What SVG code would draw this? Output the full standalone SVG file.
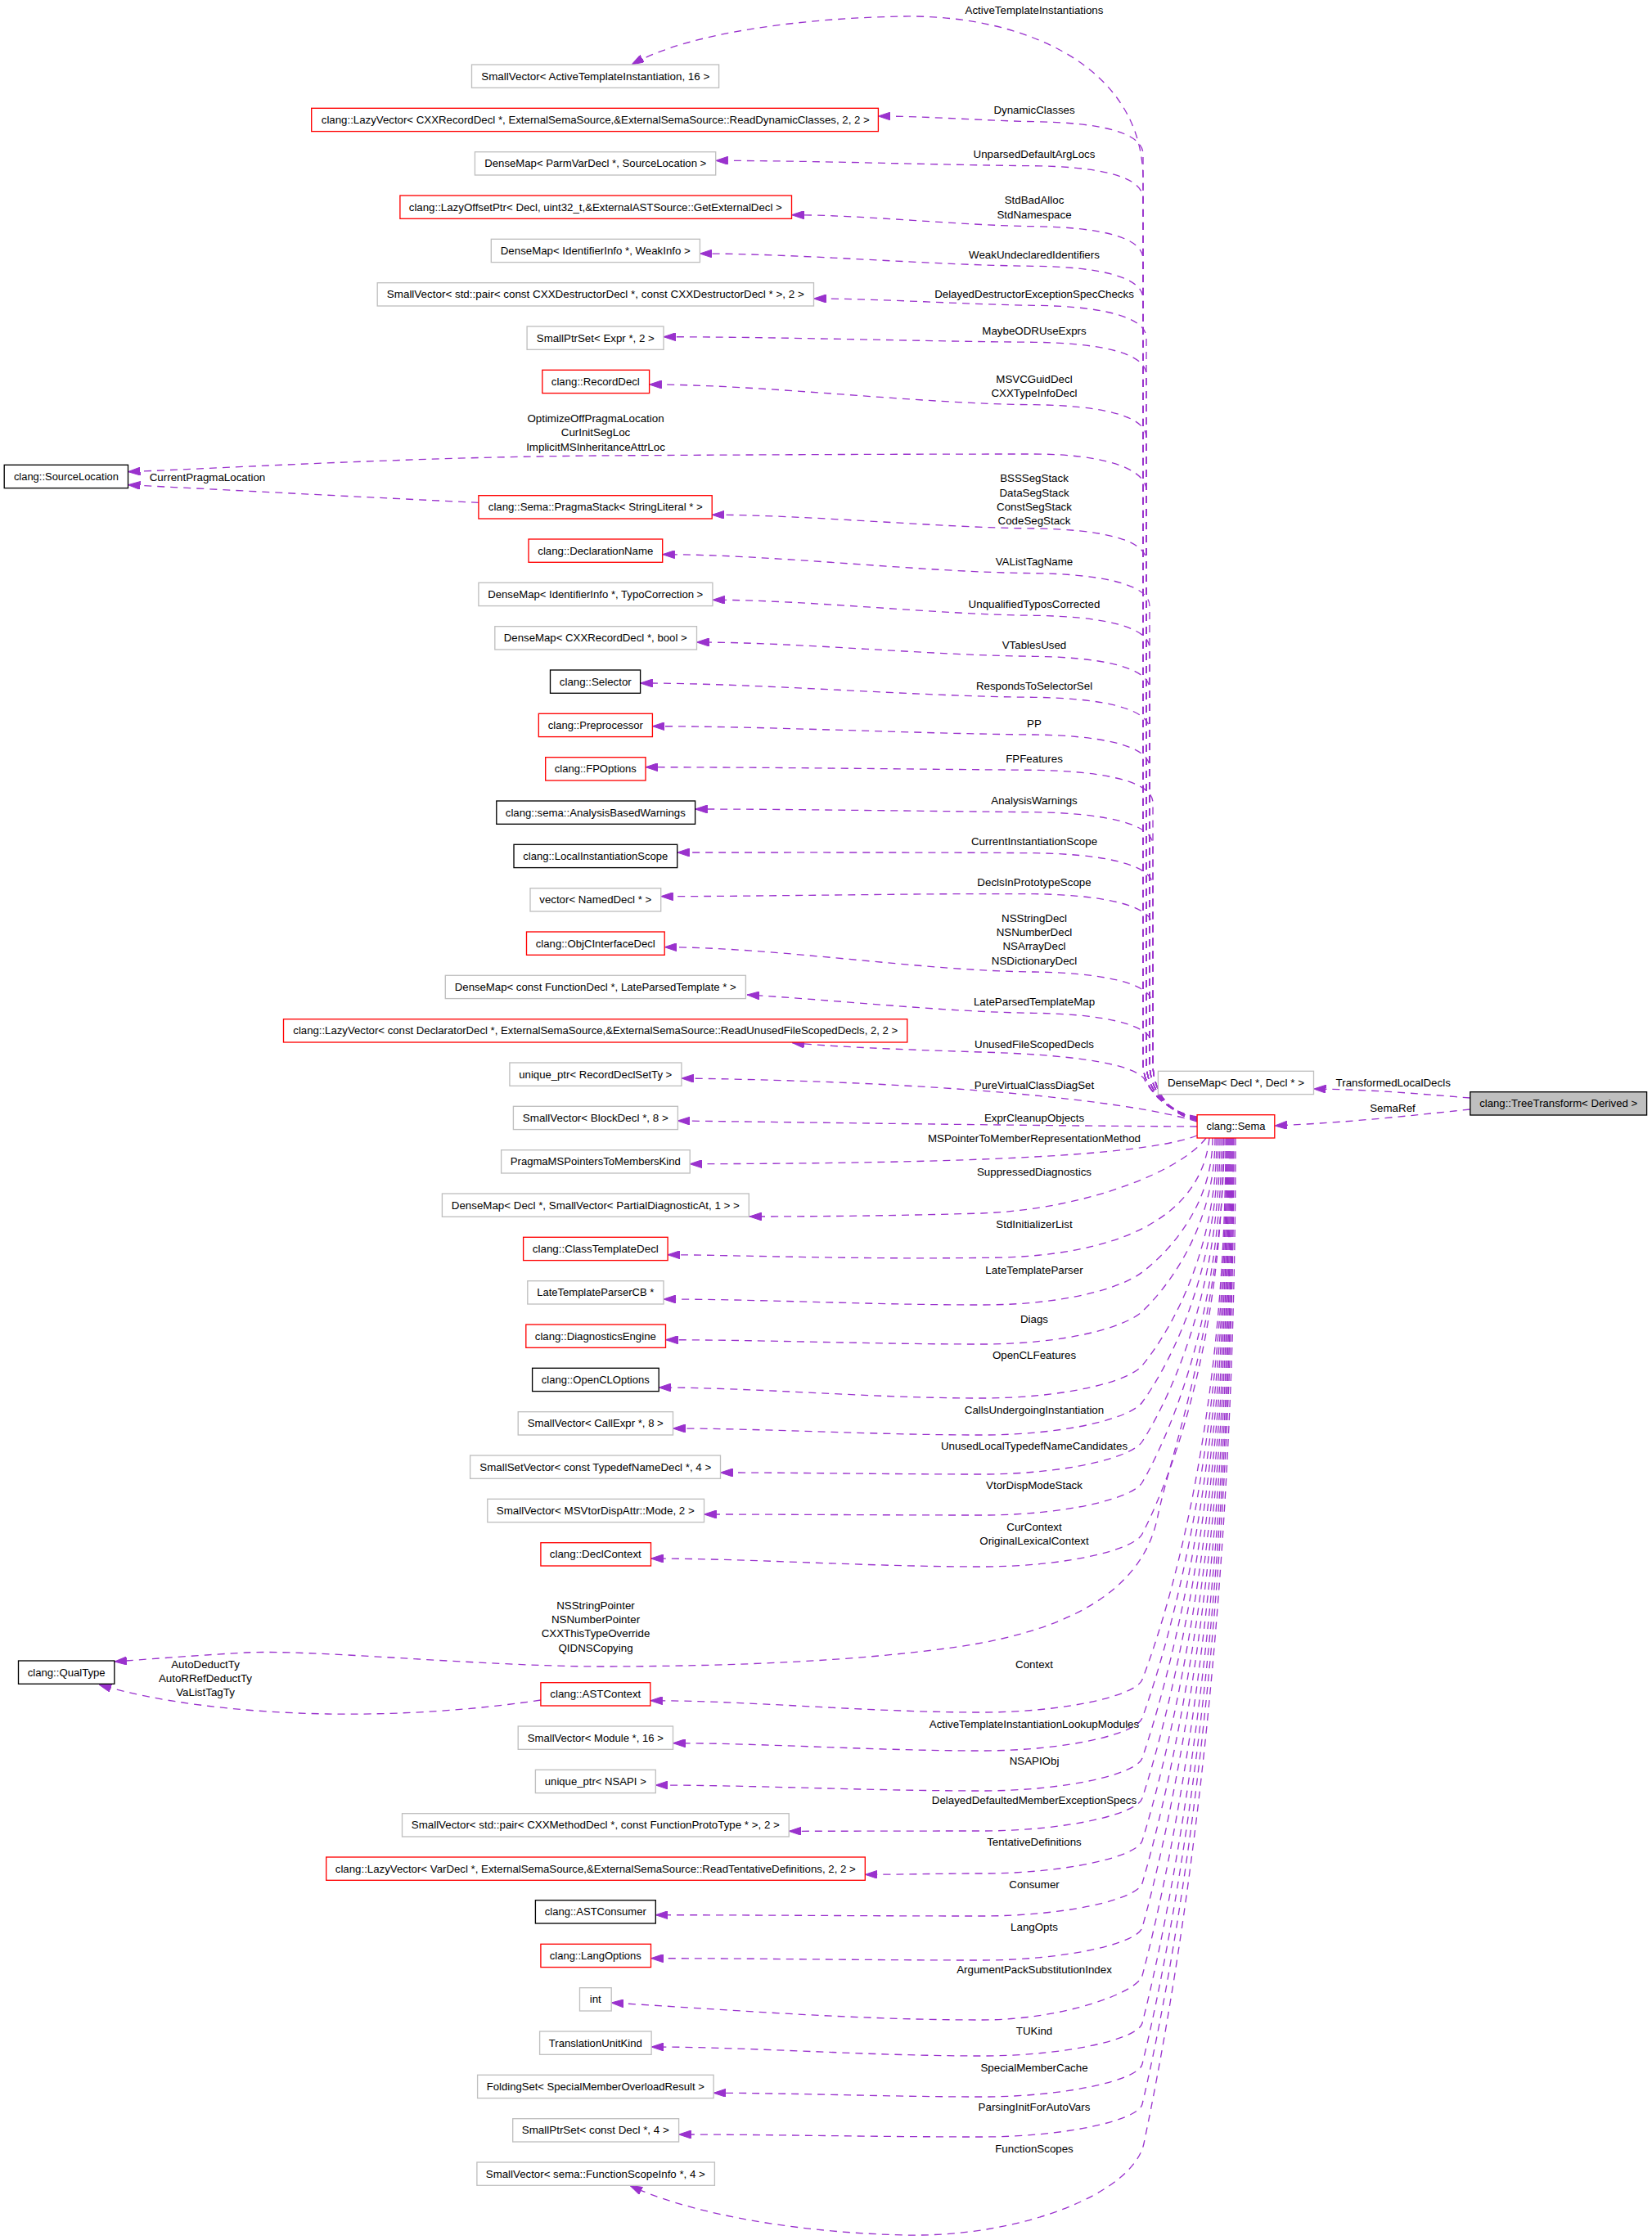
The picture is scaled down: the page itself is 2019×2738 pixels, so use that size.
<svg xmlns="http://www.w3.org/2000/svg" width="2019" height="2738" viewBox="0 0 2019 2738">
<style>
text{font-family:"Liberation Sans",Arial,Helvetica,sans-serif;font-size:13.33px;fill:#000}
.node rect{fill:#fff;stroke-width:1.33}
.node text{text-anchor:middle}
.g rect{stroke:#bfbfbf}
.r rect{stroke:#ff0000}
.k rect{stroke:#000}
.edge path{fill:none;stroke:#9a32cd;stroke-width:1.33;stroke-dasharray:9,7;marker-end:url(#arr)}
.edge text{text-anchor:middle}
</style>
<defs>
<marker id="arr" viewBox="0 0 15 10" refX="15" refY="5" markerWidth="15" markerHeight="10" markerUnits="userSpaceOnUse" orient="auto"><path d="M0,0L15,5L0,10z" fill="#9a32cd" stroke="#9a32cd" stroke-width="1"/></marker>
</defs>
<rect width="2019" height="2738" fill="#fff"/>
<g id="edges">
<g class="edge"><path d="M1463,1365 C1430,1360 1397,1335 1397,1300 L1397,220 C1397,80 1250,18 1105,20 C980,22 840,40 772,79"/><text x="1264" y="17.2">ActiveTemplateInstantiations</text></g>
<g class="edge"><path d="M1463,1366 C1430,1360 1397,1335 1397,1300 L1397,188.7 C1397,160.7 1340,149.7 1264,148.7 C1206.8,147.7 1130.6,142 1073.4,142"/><text x="1264" y="139.2">DynamicClasses</text></g>
<g class="edge"><path d="M1463,1366 C1430,1360 1397,1335 1397,1300 L1397,242.7 C1397,214.7 1340,203.7 1264,202.7 C1147.2,201.7 991.5,196.3 874.7,196.3"/><text x="1264" y="193.2">UnparsedDefaultArgLocs</text></g>
<g class="edge"><path d="M1463,1366 C1430,1360 1397,1335 1397,1300 L1397,316.7 C1397,288.7 1340,277.7 1264,276.7 C1175,275.7 1056.5,262.7 967.5,262.7"/><text x="1264" y="248.8">StdBadAlloc</text><text x="1264" y="267.2">StdNamespace</text></g>
<g class="edge"><path d="M1463,1366 C1430,1360 1397,1335 1397,1300 L1397,365.3 C1397,337.3 1340,326.3 1264,325.3 C1141.4,324.3 978,310 855.4,310"/><text x="1264" y="315.8">WeakUndeclaredIdentifiers</text></g>
<g class="edge"><path d="M1463,1367 C1430,1361 1401,1335 1401,1300 L1401,413.3 C1401,385.3 1340,374.3 1264,373.3 C1183.1,372.3 1075.4,365 994.5,365"/><text x="1264" y="363.8">DelayedDestructorExceptionSpecChecks</text></g>
<g class="edge"><path d="M1463,1367 C1430,1361 1401,1335 1401,1300 L1401,458.3 C1401,430.3 1340,419.3 1264,418.3 C1128.1,417.3 946.9,411.7 811,411.7"/><text x="1264" y="408.8">MaybeODRUseExprs</text></g>
<g class="edge"><path d="M1463,1367 C1430,1361 1401,1335 1401,1300 L1401,534.7 C1401,506.7 1340,495.7 1264,494.7 C1122.9,493.7 934.7,470 793.6,470"/><text x="1264" y="467.8">MSVCGuidDecl</text><text x="1264" y="485.2">CXXTypeInfoDecl</text></g>
<g class="edge"><path d="M1463,1367 C1430,1361 1401,1335 1401,1300 L1401,600 C1401,570 1340,555 1264,555 C1100,555 900,556 728,557 C500,559 300,571 156.5,576.7"/><text x="728" y="516.2">OptimizeOffPragmaLocation</text><text x="728" y="533.2">CurInitSegLoc</text><text x="728" y="551.2">ImplicitMSInheritanceAttrLoc</text></g>
<g class="edge"><path d="M584.9,614.3 C450,608 300,600 156.5,592.7"/><text x="253.5" y="588.2">CurrentPragmaLocation</text></g>
<g class="edge"><path d="M1463,1367 C1430,1361 1401,1335 1401,1300 L1401,686 C1401,658 1340,647 1264,646 C1145.9,645 988.3,629.3 870.2,629.3"/><text x="1264" y="589.2">BSSSegStack</text><text x="1264" y="607.2">DataSegStack</text><text x="1264" y="624.2">ConstSegStack</text><text x="1264" y="640.8">CodeSegStack</text></g>
<g class="edge"><path d="M1463,1368 C1430,1362 1405,1335 1405,1300 L1405,740.7 C1405,712.7 1340,701.7 1264,700.7 C1127.7,699.7 946,677.7 809.7,677.7"/><text x="1264" y="691.2">VAListTagName</text></g>
<g class="edge"><path d="M1463,1368 C1430,1362 1405,1335 1405,1300 L1405,792.3 C1405,764.3 1340,753.3 1264,752.3 C1146.1,751.3 988.8,733.3 870.9,733.3"/><text x="1264" y="742.8">UnqualifiedTyposCorrected</text></g>
<g class="edge"><path d="M1463,1368 C1430,1362 1405,1335 1405,1300 L1405,842.3 C1405,814.3 1340,803.3 1264,802.3 C1140.3,801.3 975.3,785 851.5,785"/><text x="1264" y="792.8">VTablesUsed</text></g>
<g class="edge"><path d="M1463,1368 C1430,1362 1405,1335 1405,1300 L1405,892.3 C1405,864.3 1340,853.3 1264,852.3 C1119.6,851.3 927,835 782.6,835"/><text x="1264" y="842.8">RespondsToSelectorSel</text></g>
<g class="edge"><path d="M1463,1368 C1430,1362 1405,1335 1405,1300 L1405,938 C1405,910 1340,899 1264,898 C1124,897 937.4,887.7 797.4,887.7"/><text x="1264" y="888.5">PP</text></g>
<g class="edge"><path d="M1463,1369 C1430,1363 1409,1335 1409,1300 L1409,981.3 C1409,953.3 1340,942.3 1264,941.3 C1121.5,940.3 931.5,937.7 789,937.7"/><text x="1264" y="931.8">FPFeatures</text></g>
<g class="edge"><path d="M1463,1369 C1430,1363 1409,1335 1409,1300 L1409,1032.7 C1409,1004.7 1340,993.7 1264,992.7 C1139.7,991.7 973.9,989 849.6,989"/><text x="1264" y="983.2">AnalysisWarnings</text></g>
<g class="edge"><path d="M1463,1369 C1430,1363 1409,1335 1409,1300 L1409,1082.7 C1409,1054.7 1340,1043.7 1264,1042.7 C1133.1,1041.7 958.6,1042 827.7,1042"/><text x="1264" y="1033.2">CurrentInstantiationScope</text></g>
<g class="edge"><path d="M1463,1369 C1430,1363 1409,1335 1409,1300 L1409,1132.7 C1409,1104.7 1340,1093.7 1264,1092.7 C1127.1,1091.7 944.6,1095.7 807.7,1095.7"/><text x="1264" y="1083.2">DeclsInPrototypeScope</text></g>
<g class="edge"><path d="M1463,1369 C1430,1363 1409,1335 1409,1300 L1409,1228 C1409,1200 1340,1189 1264,1188 C1128.5,1187 947.7,1157.7 812.2,1157.7"/><text x="1264" y="1126.8">NSStringDecl</text><text x="1264" y="1143.8">NSNumberDecl</text><text x="1264" y="1160.8">NSArrayDecl</text><text x="1264" y="1178.8">NSDictionaryDecl</text></g>
<g class="edge"><path d="M1463,1369 C1430,1363 1409,1335 1409,1300 L1409,1278.3 C1409,1250.3 1340,1239.3 1264,1238.3 C1158.7,1237.3 1018.3,1222 913,1216"/><text x="1264" y="1228.8">LateParsedTemplateMap</text></g>
<g class="edge"><path d="M1463,1370 C1430,1355 1405,1335 1398,1318 C1380,1298 1300,1289 1200,1286 C1100,1283 1010,1279 968,1274.5"/><text x="1264" y="1280.8">UnusedFileScopedDecls</text></g>
<g class="edge"><path d="M1463,1371 C1380,1345 1150,1322 832.9,1318"/><text x="1264" y="1330.8">PureVirtualClassDiagSet</text></g>
<g class="edge"><path d="M1463,1377 C1250,1376 1000,1372 828.4,1370"/><text x="1264" y="1370.8">ExprCleanupObjects</text></g>
<g class="edge"><path d="M1463,1388 C1400,1412 1200,1422 843.2,1422.7"/><text x="1264" y="1396.2">MSPointerToMemberRepresentationMethod</text></g>
<g class="edge"><path d="M1474,1391 C1445,1430 1330,1478 1200,1483 C1100,1486 1000,1487 916,1487"/><text x="1264" y="1436.8">SuppressedDiagnostics</text></g>
<g class="edge"><path d="M1478,1391 C1470,1470 1400,1530 1230,1537 C1050,1540 900,1534 816.1,1533.7"/><text x="1264" y="1500.8">StdInitializerList</text></g>
<g class="edge"><path d="M1482,1391 C1482,1481.7 1417.5,1538.7 1396,1555 C1369.6,1575 1300,1595 1200,1595 C1063.8,1595 927.7,1588 811,1588"/><text x="1264" y="1557.2">LateTemplateParser</text></g>
<g class="edge"><path d="M1485,1391 C1485,1508 1418.3,1581.9 1396,1603 C1374.9,1623 1300,1643 1200,1643 C1064.7,1643 929.5,1637.7 813.5,1637.7"/><text x="1264" y="1616.8">Diags</text></g>
<g class="edge"><path d="M1487,1391 C1487,1544.4 1418.8,1641.3 1396,1669 C1379.6,1689 1300,1709 1200,1709 C1061.8,1709 923.6,1696 805.2,1696"/><text x="1264" y="1660.8">OpenCLFeatures</text></g>
<g class="edge"><path d="M1489,1391 C1489,1569.1 1419.3,1681.8 1396,1714 C1381.6,1734 1300,1754 1200,1754 C1067.9,1754 935.8,1746 822.5,1746"/><text x="1264" y="1727.8">CallsUndergoingInstantiation</text></g>
<g class="edge"><path d="M1491,1391 C1491,1595.5 1419.8,1725 1396,1762 C1383.2,1782 1300,1802 1200,1802 C1088.2,1802 976.4,1800 880.5,1800"/><text x="1264" y="1771.8">UnusedLocalTypedefNameCandidates</text></g>
<g class="edge"><path d="M1493,1391 C1493,1623 1420.3,1770 1396,1812 C1384.5,1832 1300,1852 1200,1852 C1081.2,1852 962.4,1851 860.5,1851"/><text x="1264" y="1819.5">VtorDispModeStack</text></g>
<g class="edge"><path d="M1495,1391 C1495,1657.7 1420.8,1826.7 1396,1875 C1385.8,1895 1300,1915 1200,1915 C1058.4,1915 916.9,1905 795.5,1905"/><text x="1264" y="1870.8">CurContext</text><text x="1264" y="1887.8">OriginalLexicalContext</text></g>
<g class="edge"><path d="M1496,1391 C1496,1600 1430,1780 1415,1853 C1400,1930 1330,1990 1170,2013 C1050,2030 900,2037 728,2037 C580,2036 380,2016 300,2020 C230,2024 170,2029 139.8,2031"/><text x="728" y="1966.8">NSStringPointer</text><text x="728" y="1983.8">NSNumberPointer</text><text x="728" y="2001.2">CXXThisTypeOverride</text><text x="728" y="2018.8">QIDNSCopying</text></g>
<g class="edge"><path d="M660.9,2078 C560,2093 470,2096 400,2095 C290,2093 190,2080 121,2059"/><text x="251" y="2038.8">AutoDeductTy</text><text x="251" y="2055.8">AutoRRefDeductTy</text><text x="251" y="2073.2">VaListTagTy</text></g>
<g class="edge"><path d="M1498,1391 C1498,1755.6 1421.5,1986.9 1396,2053 C1388.3,2073 1300,2093 1200,2093 C1058.2,2093 916.4,2078.7 794.8,2078.7"/><text x="1264" y="2038.8">Context</text></g>
<g class="edge"><path d="M1499,1391 C1499,1781.4 1421.8,2029.2 1396,2100 C1388.7,2120 1300,2140 1200,2140 C1067.9,2140 935.8,2130.7 822.5,2130.7"/><text x="1264" y="2111.8">ActiveTemplateInstantiationLookupModules</text></g>
<g class="edge"><path d="M1500,1391 C1500,1808.4 1422,2073.3 1396,2149 C1389.1,2169 1300,2189 1200,2189 C1060.5,2189 920.9,2182 801.3,2182"/><text x="1264" y="2156.8">NSAPIObj</text></g>
<g class="edge"><path d="M1501,1391 C1501,1835.3 1422.3,2117.4 1396,2198 C1389.5,2218 1300,2238 1200,2238 C1117.5,2238 1035,2238.3 964.2,2238.3"/><text x="1264" y="2204.8">DelayedDefaultedMemberExceptionSpecs</text></g>
<g class="edge"><path d="M1502,1391 C1502,1863.9 1422.5,2164.2 1396,2250 C1389.8,2270 1300,2290 1200,2290 C1150.1,2290 1100.1,2291.3 1057.3,2291.3"/><text x="1264" y="2255.8">TentativeDefinitions</text></g>
<g class="edge"><path d="M1503,1391 C1503,1892.5 1422.8,2211 1396,2302 C1390.1,2322 1300,2342 1200,2342 C1060.5,2342 920.9,2340.7 801.3,2340.7"/><text x="1264" y="2307.8">Consumer</text></g>
<g class="edge"><path d="M1504,1391 C1504,1922.2 1423,2259.6 1396,2356 C1390.4,2376 1300,2396 1200,2396 C1058.4,2396 916.9,2393.7 795.5,2393.7"/><text x="1264" y="2360.2">LangOpts</text></g>
<g class="edge"><path d="M1505,1391 C1505,1954.7 1423.3,2312.7 1396,2415 C1390.7,2435 1300,2469 1200,2469 C1041.5,2469 883,2456 747.2,2448"/><text x="1264" y="2411.8">ArgumentPackSubstitutionIndex</text></g>
<g class="edge"><path d="M1506,1391 C1506,1986.6 1423.5,2364.9 1396,2473 C1390.9,2493 1300,2513 1200,2513 C1058.6,2513 917.3,2502 796.1,2502"/><text x="1264" y="2486.8">TUKind</text></g>
<g class="edge"><path d="M1507,1391 C1507,2014 1423.8,2409.9 1396,2523 C1391.1,2543 1300,2563 1200,2563 C1085.2,2563 970.5,2558.3 872.1,2558.3"/><text x="1264" y="2531.8">SpecialMemberCache</text></g>
<g class="edge"><path d="M1508,1391 C1508,2041 1424,2454 1396,2572 C1391.3,2592 1300,2612 1200,2612 C1070.4,2612 940.7,2609 829.6,2609"/><text x="1264" y="2579.8">ParsingInitForAutoVars</text></g>
<g class="edge"><path d="M1510,1391 C1510,2060 1425,2490 1398,2620 C1385,2680 1250,2735 1105,2732 C950,2728 830,2700 770,2671.5"/><text x="1264" y="2630.8">FunctionScopes</text></g>
<g class="edge"><path d="M1796.8,1342 C1720,1336 1680,1332 1605.5,1331"/><text x="1702.7" y="1327.8">TransformedLocalDecls</text></g>
<g class="edge"><path d="M1796.8,1356 C1720,1364 1650,1372 1557.8,1376"/><text x="1702" y="1358.5">SemaRef</text></g>
</g>
<g id="nodes">
<g id="n1" class="node g"><rect x="576.5" y="79" width="302.1" height="28.3"/><text x="727.8" y="97.6" textLength="279" lengthAdjust="spacingAndGlyphs">SmallVector&lt; ActiveTemplateInstantiation, 16 &gt;</text></g>
<g id="n2" class="node r"><rect x="380.7" y="132.3" width="692.7" height="28.3"/><text x="727.8" y="150.9" textLength="670" lengthAdjust="spacingAndGlyphs">clang::LazyVector&lt; CXXRecordDecl *, ExternalSemaSource,&amp;ExternalSemaSource::ReadDynamicClasses, 2, 2 &gt;</text></g>
<g id="n3" class="node g"><rect x="580.4" y="185.7" width="294.3" height="28.3"/><text x="727.8" y="204.3" textLength="271" lengthAdjust="spacingAndGlyphs">DenseMap&lt; ParmVarDecl *, SourceLocation &gt;</text></g>
<g id="n4" class="node r"><rect x="488.9" y="239" width="478.6" height="28.3"/><text x="727.8" y="257.6" textLength="456" lengthAdjust="spacingAndGlyphs">clang::LazyOffsetPtr&lt; Decl, uint32_t,&amp;ExternalASTSource::GetExternalDecl &gt;</text></g>
<g id="n5" class="node g"><rect x="600.3" y="292.3" width="255.1" height="28.3"/><text x="727.8" y="310.9" textLength="232" lengthAdjust="spacingAndGlyphs">DenseMap&lt; IdentifierInfo *, WeakInfo &gt;</text></g>
<g id="n6" class="node g"><rect x="461.2" y="345.7" width="533.3" height="28.3"/><text x="727.8" y="364.3" textLength="510" lengthAdjust="spacingAndGlyphs">SmallVector&lt; std::pair&lt; const CXXDestructorDecl *, const CXXDestructorDecl * &gt;, 2 &gt;</text></g>
<g id="n7" class="node g"><rect x="644.1" y="399" width="166.9" height="28.3"/><text x="727.8" y="417.6" textLength="144" lengthAdjust="spacingAndGlyphs">SmallPtrSet&lt; Expr *, 2 &gt;</text></g>
<g id="n8" class="node r"><rect x="662.8" y="452.3" width="130.8" height="28.3"/><text x="727.8" y="470.9" textLength="108" lengthAdjust="spacingAndGlyphs">clang::RecordDecl</text></g>
<g id="n9" class="node k"><rect x="5.2" y="568.3" width="151.3" height="28.3"/><text x="80.9" y="586.9" textLength="128" lengthAdjust="spacingAndGlyphs">clang::SourceLocation</text></g>
<g id="n10" class="node r"><rect x="584.9" y="605.7" width="285.3" height="28.3"/><text x="727.8" y="624.3" textLength="262" lengthAdjust="spacingAndGlyphs">clang::Sema::PragmaStack&lt; StringLiteral * &gt;</text></g>
<g id="n11" class="node r"><rect x="646" y="659" width="163.7" height="28.3"/><text x="727.8" y="677.6" textLength="141" lengthAdjust="spacingAndGlyphs">clang::DeclarationName</text></g>
<g id="n12" class="node g"><rect x="584.9" y="712.3" width="286" height="28.3"/><text x="727.8" y="730.9" textLength="263" lengthAdjust="spacingAndGlyphs">DenseMap&lt; IdentifierInfo *, TypoCorrection &gt;</text></g>
<g id="n13" class="node g"><rect x="604.8" y="765.7" width="246.7" height="28.3"/><text x="727.8" y="784.3" textLength="224" lengthAdjust="spacingAndGlyphs">DenseMap&lt; CXXRecordDecl *, bool &gt;</text></g>
<g id="n14" class="node k"><rect x="672.5" y="819" width="110.1" height="28.3"/><text x="727.8" y="837.6" textLength="88" lengthAdjust="spacingAndGlyphs">clang::Selector</text></g>
<g id="n15" class="node r"><rect x="658.3" y="872.3" width="139.1" height="28.3"/><text x="727.8" y="890.9" textLength="116" lengthAdjust="spacingAndGlyphs">clang::Preprocessor</text></g>
<g id="n16" class="node r"><rect x="666.7" y="925.7" width="122.3" height="28.3"/><text x="727.8" y="944.3" textLength="100" lengthAdjust="spacingAndGlyphs">clang::FPOptions</text></g>
<g id="n17" class="node k"><rect x="606.8" y="979" width="242.8" height="28.3"/><text x="727.8" y="997.6" textLength="220" lengthAdjust="spacingAndGlyphs">clang::sema::AnalysisBasedWarnings</text></g>
<g id="n18" class="node k"><rect x="628" y="1032.3" width="199.7" height="28.3"/><text x="727.8" y="1050.9" textLength="177" lengthAdjust="spacingAndGlyphs">clang::LocalInstantiationScope</text></g>
<g id="n19" class="node g"><rect x="648" y="1085.7" width="159.7" height="28.3"/><text x="727.8" y="1104.3" textLength="137" lengthAdjust="spacingAndGlyphs">vector&lt; NamedDecl * &gt;</text></g>
<g id="n20" class="node r"><rect x="643.5" y="1139" width="168.7" height="28.3"/><text x="727.8" y="1157.6" textLength="146" lengthAdjust="spacingAndGlyphs">clang::ObjCInterfaceDecl</text></g>
<g id="n21" class="node g"><rect x="544.3" y="1192.3" width="367.1" height="28.3"/><text x="727.8" y="1210.9" textLength="344" lengthAdjust="spacingAndGlyphs">DenseMap&lt; const FunctionDecl *, LateParsedTemplate * &gt;</text></g>
<g id="n22" class="node r"><rect x="346.5" y="1245.7" width="762.3" height="28.3"/><text x="727.8" y="1264.3" textLength="739" lengthAdjust="spacingAndGlyphs">clang::LazyVector&lt; const DeclaratorDecl *, ExternalSemaSource,&amp;ExternalSemaSource::ReadUnusedFileScopedDecls, 2, 2 &gt;</text></g>
<g id="n23" class="node g"><rect x="622.9" y="1299" width="210" height="28.3"/><text x="727.8" y="1317.6" textLength="187" lengthAdjust="spacingAndGlyphs">unique_ptr&lt; RecordDeclSetTy &gt;</text></g>
<g id="n24" class="node g"><rect x="627.4" y="1352.3" width="201" height="28.3"/><text x="727.8" y="1370.9" textLength="178" lengthAdjust="spacingAndGlyphs">SmallVector&lt; BlockDecl *, 8 &gt;</text></g>
<g id="n25" class="node g"><rect x="612.6" y="1405.7" width="230.6" height="28.3"/><text x="727.8" y="1424.3" textLength="208" lengthAdjust="spacingAndGlyphs">PragmaMSPointersToMembersKind</text></g>
<g id="n26" class="node g"><rect x="540.4" y="1459" width="374.9" height="28.3"/><text x="727.8" y="1477.6" textLength="352" lengthAdjust="spacingAndGlyphs">DenseMap&lt; Decl *, SmallVector&lt; PartialDiagnosticAt, 1 &gt; &gt;</text></g>
<g id="n27" class="node r"><rect x="639.6" y="1512.3" width="176.5" height="28.3"/><text x="727.8" y="1530.9" textLength="154" lengthAdjust="spacingAndGlyphs">clang::ClassTemplateDecl</text></g>
<g id="n28" class="node g"><rect x="644.8" y="1565.7" width="166.2" height="28.3"/><text x="727.8" y="1584.3" textLength="143" lengthAdjust="spacingAndGlyphs">LateTemplateParserCB *</text></g>
<g id="n29" class="node r"><rect x="642.8" y="1619" width="170.7" height="28.3"/><text x="727.8" y="1637.6" textLength="148" lengthAdjust="spacingAndGlyphs">clang::DiagnosticsEngine</text></g>
<g id="n30" class="node k"><rect x="650.6" y="1672.3" width="154.6" height="28.3"/><text x="727.8" y="1690.9" textLength="132" lengthAdjust="spacingAndGlyphs">clang::OpenCLOptions</text></g>
<g id="n31" class="node g"><rect x="633.2" y="1725.7" width="189.3" height="28.3"/><text x="727.8" y="1744.3" textLength="166" lengthAdjust="spacingAndGlyphs">SmallVector&lt; CallExpr *, 8 &gt;</text></g>
<g id="n32" class="node g"><rect x="574.6" y="1779" width="305.9" height="28.3"/><text x="727.8" y="1797.6" textLength="283" lengthAdjust="spacingAndGlyphs">SmallSetVector&lt; const TypedefNameDecl *, 4 &gt;</text></g>
<g id="n33" class="node g"><rect x="595.8" y="1832.3" width="264.7" height="28.3"/><text x="727.8" y="1850.9" textLength="242" lengthAdjust="spacingAndGlyphs">SmallVector&lt; MSVtorDispAttr::Mode, 2 &gt;</text></g>
<g id="n34" class="node r"><rect x="660.9" y="1885.7" width="134.6" height="28.3"/><text x="727.8" y="1904.3" textLength="112" lengthAdjust="spacingAndGlyphs">clang::DeclContext</text></g>
<g id="n35" class="node k"><rect x="22.5" y="2030" width="117.3" height="28.3"/><text x="81.2" y="2048.6" textLength="95" lengthAdjust="spacingAndGlyphs">clang::QualType</text></g>
<g id="n36" class="node r"><rect x="660.9" y="2056.7" width="133.9" height="28.3"/><text x="727.8" y="2075.3" textLength="111" lengthAdjust="spacingAndGlyphs">clang::ASTContext</text></g>
<g id="n37" class="node g"><rect x="633.2" y="2110" width="189.3" height="28.3"/><text x="727.8" y="2128.6" textLength="166" lengthAdjust="spacingAndGlyphs">SmallVector&lt; Module *, 16 &gt;</text></g>
<g id="n38" class="node g"><rect x="654.4" y="2163.3" width="146.9" height="28.3"/><text x="727.8" y="2181.9" textLength="124" lengthAdjust="spacingAndGlyphs">unique_ptr&lt; NSAPI &gt;</text></g>
<g id="n39" class="node g"><rect x="491.5" y="2216.7" width="472.7" height="28.3"/><text x="727.8" y="2235.3" textLength="450" lengthAdjust="spacingAndGlyphs">SmallVector&lt; std::pair&lt; CXXMethodDecl *, const FunctionProtoType * &gt;, 2 &gt;</text></g>
<g id="n40" class="node r"><rect x="398.7" y="2270" width="658.6" height="28.3"/><text x="727.8" y="2288.6" textLength="636" lengthAdjust="spacingAndGlyphs">clang::LazyVector&lt; VarDecl *, ExternalSemaSource,&amp;ExternalSemaSource::ReadTentativeDefinitions, 2, 2 &gt;</text></g>
<g id="n41" class="node k"><rect x="654.4" y="2322.7" width="146.9" height="28.3"/><text x="727.8" y="2341.3" textLength="124" lengthAdjust="spacingAndGlyphs">clang::ASTConsumer</text></g>
<g id="n42" class="node r"><rect x="660.9" y="2376.3" width="134.6" height="28.3"/><text x="727.8" y="2394.9" textLength="112" lengthAdjust="spacingAndGlyphs">clang::LangOptions</text></g>
<g id="n43" class="node g"><rect x="708.5" y="2429.7" width="38.7" height="28.3"/><text x="727.8" y="2448.3">int</text></g>
<g id="n44" class="node g"><rect x="659.6" y="2483" width="136.5" height="28.3"/><text x="727.8" y="2501.6" textLength="114" lengthAdjust="spacingAndGlyphs">TranslationUnitKind</text></g>
<g id="n45" class="node g"><rect x="583.6" y="2536.3" width="288.5" height="28.3"/><text x="727.8" y="2554.9" textLength="266" lengthAdjust="spacingAndGlyphs">FoldingSet&lt; SpecialMemberOverloadResult &gt;</text></g>
<g id="n46" class="node g"><rect x="626.7" y="2589.7" width="202.9" height="28.3"/><text x="727.8" y="2608.3" textLength="180" lengthAdjust="spacingAndGlyphs">SmallPtrSet&lt; const Decl *, 4 &gt;</text></g>
<g id="n47" class="node g"><rect x="582.9" y="2643" width="290.5" height="28.3"/><text x="727.8" y="2661.6" textLength="268" lengthAdjust="spacingAndGlyphs">SmallVector&lt; sema::FunctionScopeInfo *, 4 &gt;</text></g>
<g id="n48" class="node g"><rect x="1415.4" y="1309.3" width="190.1" height="28.3"/><text x="1510.5" y="1327.9" textLength="167" lengthAdjust="spacingAndGlyphs">DenseMap&lt; Decl *, Decl * &gt;</text></g>
<g id="n49" class="node r"><rect x="1463.1" y="1362.7" width="94.7" height="28.3"/><text x="1510.5" y="1381.3" textLength="72" lengthAdjust="spacingAndGlyphs">clang::Sema</text></g>
<g id="n50" class="node k"><rect x="1796.8" y="1334.7" width="215.8" height="28.3" style="fill:#bfbfbf"/><text x="1904.7" y="1353.3" textLength="193" lengthAdjust="spacingAndGlyphs">clang::TreeTransform&lt; Derived &gt;</text></g>
</g>
</svg>
